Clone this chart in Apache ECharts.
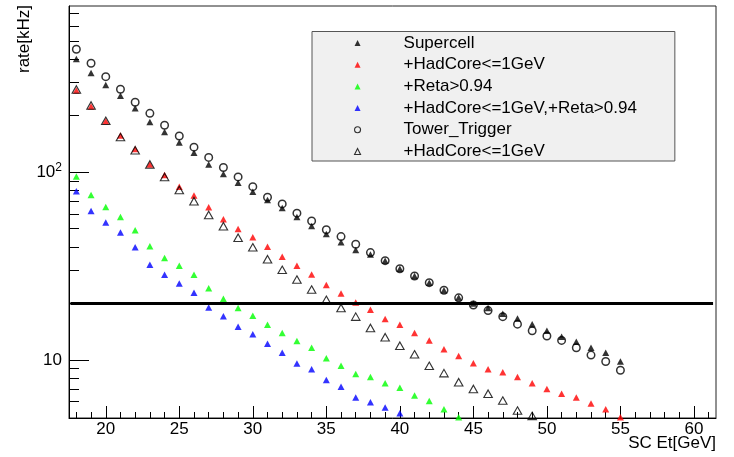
<!DOCTYPE html>
<html><head><meta charset="utf-8">
<script src="https://cdn.jsdelivr.net/npm/echarts@6/dist/echarts.min.js"></script>
<style>html,body{margin:0;padding:0;background:#fff}#c{width:734px;height:457px}</style>
</head><body><div id="c"></div>
<script>
// ---- data ----
const etValues = [18,19,20,21,22,23,24,25,26,27,28,29,30,31,32,33,34,35,36,37,38,39,40,41,42,43,44,45,46,47,48,49,50,51,52,53,54,55];
const supercell = [401,338,292,256,219,185,164,144,127,110,97.9,88.0,78.8,71.2,64.5,57.8,51.7,46.9,42.4,38.5,36.4,33.8,30.6,28.0,25.8,23.5,21.5,20.0,18.9,17.6,16.6,15.5,14.3,13.3,12.5,11.6,10.9,9.8];
const hadCore = [273,224,187,157,133,110,96.7,83.8,75.1,65.1,56.2,49.9,45.0,40.1,35.5,31.7,28.5,25.1,22.6,20.2,18.5,16.5,15.4,13.9,12.7,11.4,10.5,9.6,8.9,8.6,8.1,7.5,7.0,6.6,6.3,5.85,5.46,4.95];
const reta = [94.8,75.7,65.3,57.8,49.1,40.3,34.9,31.7,28.4,24.1,21.2,18.9,17.2,15.4,13.9,12.6,11.6,10.2,9.3,8.4,8.1,7.5,7.1,6.45,6.03,5.46,4.95];
const hadCoreReta = [79.2,62.2,53.9,47.7,39.8,32.1,28.4,25.5,22.8,19.0,17.1,15.0,13.7,12.2,10.9,9.56,8.9,7.8,7.2,6.3,5.95,5.57,5.2];
const towerTrigger = [452,381,323,277,236,206,178,156,136,120,106,94.4,83.8,73.6,67.8,60.5,55.0,49.4,45.4,41.3,37.3,33.8,30.6,28.0,25.8,23.5,21.4,19.6,18.3,17.0,15.5,14.3,13.4,12.7,11.6,10.6,9.8,8.8];
const towerHadCore = [276,227,188,154,131,110,94.4,80.5,70.1,59.2,51.6,44.8,39.8,34.4,30.2,26.8,23.7,20.9,18.9,17.0,14.8,13.2,11.9,10.7,9.3,8.5,7.6,7.0,6.6,6.07,5.37,5.03];
const thresholdRate = 20;
const xMajorTicks = [20,25,30,35,40,45,50,55,60];
const xMinorTicks = [18,19,20,21,22,23,24,25,26,27,28,29,30,31,32,33,34,35,36,37,38,39,40,41,42,43,44,45,46,47,48,49,50,51,52,53,54,55,56,57,58,59,60,61];
const yMajorTicks = [10,100];
const yMinorTicks = [6,7,8,9,20,30,40,50,60,70,80,90,200,300,400,500,600,700];
const legendNames = ['Supercell','+HadCore<=1GeV','+Reta>0.94','+HadCore<=1GeV,+Reta>0.94','Tower_Trigger','Tower +HadCore<=1GeV'];
const xTitle = 'SC Et[GeV]';
const yTitle = 'rate[kHz]';

// ---- chart ----
const F = '"Liberation Sans", Arial, Helvetica, sans-serif';
const pair = vals => vals.map((v, i) => [etValues[i], v]);
const chart = echarts.init(document.getElementById('c'), null, {renderer: 'canvas'});

function scatter(name, vals, symbol, size, itemStyle, extra) {
  return Object.assign({
    name, type: 'scatter', data: pair(vals), symbol, symbolSize: size,
    itemStyle, clip: true, animation: false, emphasis: {disabled: true}
  }, extra || {});
}

const black = '#000';
const hollow = {color: 'rgba(0,0,0,0)', borderColor: '#000', borderWidth: 1.1};
const option = {
  animation: false,
  backgroundColor: '#fff',
  grid: {left: 69, top: 6, right: 18, bottom: 39, containLabel: false, outerBoundsMode: 'none',
         show: true, borderColor: '#222', borderWidth: 1, backgroundColor: 'transparent'},
  graphic: [
    {type: 'text', right: 18, top: 435, silent: true,
     style: {text: xTitle, fill: black, font: '17px ' + F}}
  ],
  legend: {
    data: legendNames.map((n, i) => i >= 4 ? {name: n, itemStyle: hollow} : {name: n}),
    orient: 'vertical', left: 312, top: 31.5,
    backgroundColor: '#f0f0f0', borderColor: '#555', borderWidth: 1,
    padding: [3, 38, 1, 42], itemGap: 4.7, itemWidth: 6, itemHeight: 6,
    selectedMode: false,
    formatter: n => n.replace(/^Tower \+/, '+'),
    textStyle: {fontSize: 17, lineHeight: 17, color: '#000', fontFamily: F, padding: [0, 0, 0, 38]}
  },
  xAxis: [
    {type: 'value', min: 17.5, max: 61.5,
     axisLine: {show: true, onZero: false, lineStyle: {color: black}}, splitLine: {show: false},
     axisTick: {inside: true, length: 12, customValues: xMajorTicks, lineStyle: {color: black}},
     axisLabel: {customValues: xMajorTicks, margin: 3, fontSize: 17, color: black, fontFamily: F}},
    {type: 'value', min: 17.5, max: 61.5, position: 'bottom',
     axisLine: {show: false}, splitLine: {show: false},
     axisTick: {inside: true, length: 6, customValues: xMinorTicks, lineStyle: {color: black}},
     axisLabel: {show: false}}
  ],
  yAxis: [
    {type: 'log', logBase: 10, min: 4.9, max: 769,
     axisLine: {show: true, onZero: false, lineStyle: {color: black}}, splitLine: {show: false},
     axisTick: {inside: true, length: 20, customValues: yMajorTicks, lineStyle: {color: black}},
     axisLabel: {customValues: yMajorTicks, margin: 7, fontSize: 17, color: black, fontFamily: F,
       formatter: v => Math.round(v) >= 100 ? '{n|10}{s|2}' : '{n|10}',
       rich: {n: {fontSize: 17, fontFamily: F, color: black}, s: {fontSize: 12, fontFamily: F, color: black, padding: [0, 0, 9, 0]}}},
     name: yTitle, nameLocation: 'end', nameGap: 1, nameRotate: 90,
     nameTruncate: {maxWidth: 300, ellipsis: ''},
     nameTextStyle: {align: 'right', verticalAlign: 'bottom', padding: [0, 0, 36, 0], fontSize: 17, color: black,
                     fontFamily: F, overflow: 'none'}},
    {type: 'log', logBase: 10, min: 4.9, max: 769, position: 'left',
     axisLine: {show: false}, splitLine: {show: false},
     axisTick: {inside: true, length: 10, customValues: yMinorTicks, lineStyle: {color: black}},
     axisLabel: {show: false}}
  ],
  series: [
    scatter('Supercell', supercell, 'triangle', [7, 6.5], {color: '#000'}, {
      markLine: {silent: true, symbol: 'none', animation: false, label: {show: false},
        lineStyle: {color: '#000', width: 3, type: 'solid'},
        data: [[{coord: [17.6, thresholdRate]}, {coord: [61.3, thresholdRate]}]]}
    }),
    scatter('+HadCore<=1GeV', hadCore, 'triangle', [7, 6.5], {color: '#ff0000'}),
    scatter('+Reta>0.94', reta, 'triangle', [7, 6.5], {color: '#00ff00'}),
    scatter('+HadCore<=1GeV,+Reta>0.94', hadCoreReta, 'triangle', [7, 6.5], {color: '#0000ff'}),
    scatter('Tower_Trigger', towerTrigger, 'circle', 7.5, {color: 'rgba(0,0,0,0)', borderColor: '#000', borderWidth: 1.5}),
    scatter('Tower +HadCore<=1GeV', towerHadCore, 'triangle', [8.5, 7.5], {color: 'rgba(0,0,0,0)', borderColor: '#000', borderWidth: 1.1})
  ]
};
chart.setOption(option);
</script>
</body></html>
